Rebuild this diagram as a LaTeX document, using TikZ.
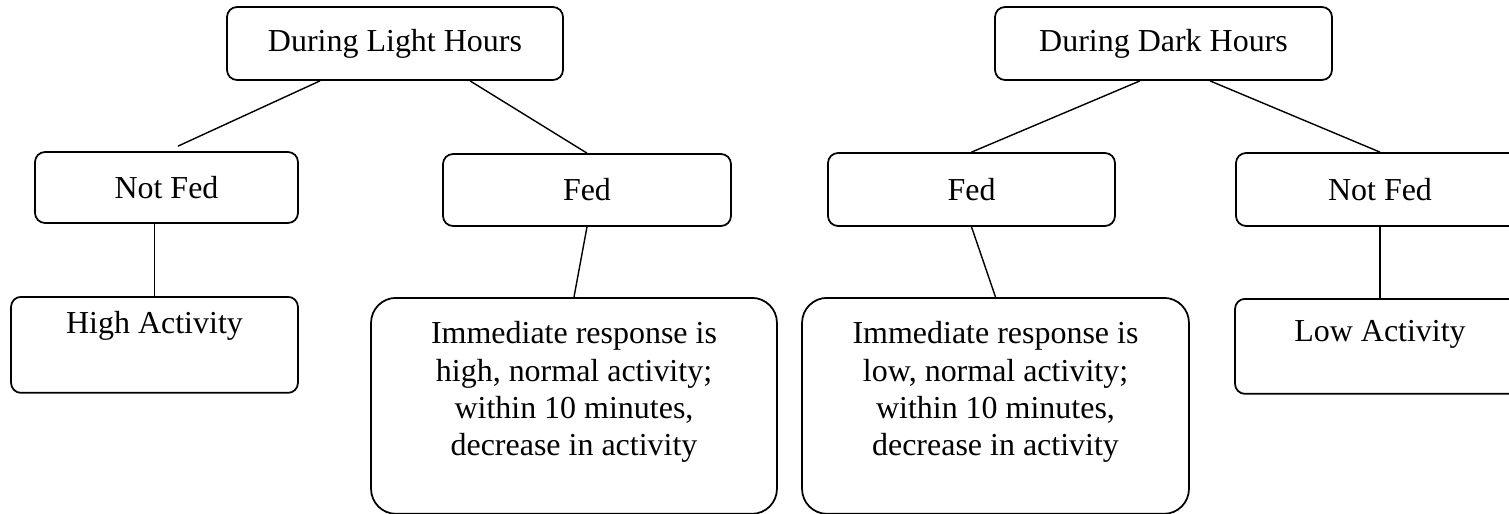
\documentclass[tikz,border=0pt]{standalone}
\usepackage{fontspec}
\setmainfont{Liberation Serif}
\usetikzlibrary{positioning}

\begin{document}
\begin{tikzpicture}[x=0.02cm, y=-0.02cm, font=\fontsize{18.2}{21.3}\selectfont,
      hourbox/.style={rectangle, rounded corners=10*0.02cm, draw, line width=1pt,
                      inner sep=0pt, minimum height=1.46cm, align=center},
      fedbox/.style={hourbox, minimum height=1.44cm},
      resultbox/.style={rectangle, rounded corners=10*0.02cm, draw, line width=1pt,
                        inner xsep=0pt, inner ysep=0.3cm, anchor=north, align=center},
      bigbox/.style={resultbox, rounded corners=25*0.02cm, text height=2.86cm, text depth=0.86cm},
      link/.style={line width=0.8pt}]
    \useasboundingbox (0,0) rectangle (1509,514);
    \clip (0,0) rectangle (1509,514);
    % light hours
    \node[hourbox, minimum width=6.72cm] (light) at (395,43.5) {During Light Hours};
    \node[fedbox, minimum width=5.26cm, minimum height=1.42cm] (lnotfed) at (166.5,187.5) {Not Fed};
    \node[fedbox, minimum width=5.76cm] (lfed) at (587,190) {Fed};
    \node[resultbox, minimum width=5.74cm, text height=0.44cm, text depth=0.88cm] (high) at (154.5,296) {High Activity};
    \node[bigbox, minimum width=8.12cm] (lresp) at (574,297)
      {Immediate response is\\high, normal activity;\\within 10 minutes,\\decrease in activity};
    % dark hours
    \node[hourbox, minimum width=6.74cm] (dark) at (1163.5,43.5) {During Dark Hours};
    \node[fedbox, minimum width=5.74cm, minimum height=1.46cm] (dfed) at (971.5,189.5) {Fed};
    \node[fedbox, minimum width=5.76cm, minimum height=1.46cm] (dnotfed) at (1380,189.5) {Not Fed};
    \node[bigbox, minimum width=7.74cm] (dresp) at (995.5,297)
      {Immediate response is\\low, normal activity;\\within 10 minutes,\\decrease in activity};
    \node[resultbox, minimum width=5.8cm, text height=0.56cm, text depth=0.74cm] (low) at (1380,298) {Low Activity};
    % connectors
    \draw[link] ([xshift=-1.5cm]light.south) -- ([xshift=0.23cm, yshift=0.1cm]lnotfed.north);
    \draw[link] ([xshift=1.5cm]light.south) -- (lfed.north);
    \draw[link] (high.north) -- (high.north |- lnotfed.south);
    \draw[link] (lfed.south) -- (lresp.north);
    \draw[link] ([xshift=-0.47cm]dark.south) -- (dfed.north);
    \draw[link] ([xshift=0.93cm]dark.south) -- (dnotfed.north);
    \draw[link] (dfed.south) -- (dresp.north);
    \draw[link] (dnotfed.south) -- (low.north);
  \end{tikzpicture}
\end{document}
